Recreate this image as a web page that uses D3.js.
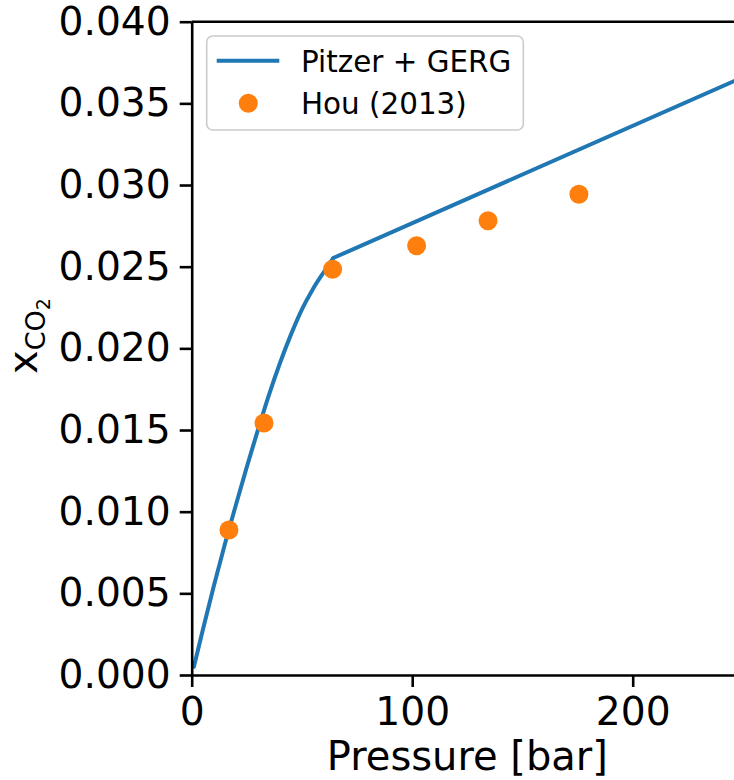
<!DOCTYPE html>
<html>
<head>
<meta charset="utf-8">
<script src="https://cdn.jsdelivr.net/npm/d3@7"></script>
<style>
  body { margin: 0; background: #fff; }
  svg { display: block; font-family: "DejaVu Sans", sans-serif; }
</style>
</head>
<body>
<svg id="chart" width="734" height="780"></svg>
<script>
// Pitzer + GERG model curve (pressure in bar, CO2 mole fraction)
// below the kink (two-phase region) ...
var modelP = [1, 5, 10, 15, 20, 25, 30, 35, 40, 45, 50, 55, 60, 64.2];
var modelX = [0.0005, 0.00274, 0.00544, 0.00799, 0.01039, 0.01274, 0.01499, 0.01714, 0.01909,
              0.02084, 0.02239, 0.02364, 0.02469, 0.02553];
// ... and above it
var modelP2 = [64.2, 250];
var modelX2 = [0.02553, 0.0366];

// Hou (2013) measurements
var houP = [16.9, 32.8, 63.9, 102.0, 134.4, 175.6];
var houX = [0.00888, 0.01543, 0.02484, 0.02628, 0.02781, 0.02943];

var xTicks = [0, 100, 200];
var yTicks = [0, 0.005, 0.010, 0.015, 0.020, 0.025, 0.030, 0.035, 0.040];

var blue = "#1f77b4", orange = "#ff7f0e";

var svg = d3.select("#chart");
var margin = { left: 191.7, top: 21.7, bottom: 675 };
var x = d3.scaleLinear().domain([0, 250]).range([margin.left, margin.left + 2.205 * 250]);
var y = d3.scaleLinear().domain([0, 0.04]).range([margin.bottom, margin.top]);

// clip for plot area
svg.append("defs").append("clipPath").attr("id", "plotclip")
  .append("rect")
  .attr("x", x(0)).attr("y", y(0.04))
  .attr("width", x(250) - x(0)).attr("height", y(0) - y(0.04));

function drawModel(ps, xs, curve) {
  var line = d3.line()
    .x(function (d, i) { return x(ps[i]); })
    .y(function (d, i) { return y(xs[i]); })
    .curve(curve);
  svg.append("path")
    .datum(ps)
    .attr("clip-path", "url(#plotclip)")
    .attr("d", line)
    .attr("fill", "none")
    .attr("stroke", blue)
    .attr("stroke-width", 4)
    .attr("stroke-linecap", "round");
}
drawModel(modelP, modelX, d3.curveMonotoneX);
drawModel(modelP2, modelX2, d3.curveLinear);

// data points
svg.append("g").selectAll("circle")
  .data(houP)
  .enter().append("circle")
  .attr("cx", function (d) { return x(d); })
  .attr("cy", function (d, i) { return y(houX[i]); })
  .attr("r", 9.5)
  .attr("fill", orange);

// axes
var xAxis = svg.append("g")
  .attr("transform", "translate(0," + y(0) + ")")
  .call(d3.axisBottom(x).tickValues(xTicks).tickSize(12).tickSizeOuter(0).tickPadding(10));
var yAxis = svg.append("g")
  .attr("transform", "translate(" + x(0) + ",0)")
  .call(d3.axisLeft(y).tickValues(yTicks).tickFormat(d3.format(".3f")).tickSize(12).tickSizeOuter(0).tickPadding(9));

[xAxis, yAxis].forEach(function (ax) {
  ax.selectAll("path, line").attr("stroke", "#000").attr("stroke-width", 2.6);
  ax.selectAll("text").attr("fill", "#000").style("font-size", "39.2px")
    .style("font-family", "'DejaVu Sans', sans-serif");
});

// top spine
svg.append("line")
  .attr("x1", x(0)).attr("x2", x(250))
  .attr("y1", y(0.04)).attr("y2", y(0.04))
  .attr("stroke", "#000").attr("stroke-width", 2.6);

// axis labels
svg.append("text")
  .attr("x", (x(0) + x(250)) / 2)
  .attr("y", 770)
  .attr("text-anchor", "middle")
  .style("font-size", "40px")
  .text("Pressure [bar]");

var ylab = svg.append("text")
  .attr("transform", "translate(37,336) rotate(-90)")
  .attr("text-anchor", "middle")
  .style("font-size", "40px");
ylab.append("tspan").text("x");
ylab.append("tspan").attr("dy", 8).style("font-size", "27px").text("CO");
ylab.append("tspan").attr("dy", 5).style("font-size", "19px").text("2");

// legend
var lg = svg.append("g");
lg.append("rect")
  .attr("x", 206.7).attr("y", 36)
  .attr("width", 316.6).attr("height", 94)
  .attr("rx", 6)
  .attr("fill", "#fff").attr("fill-opacity", 0.8)
  .attr("stroke", "#cccccc").attr("stroke-width", 1.6);
lg.append("line")
  .attr("x1", 216.7).attr("x2", 279.3)
  .attr("y1", 60.7).attr("y2", 60.7)
  .attr("stroke", blue).attr("stroke-width", 4);
lg.append("circle")
  .attr("cx", 248.3).attr("cy", 103.3).attr("r", 9.5)
  .attr("fill", orange);
lg.append("text")
  .attr("x", 301).attr("y", 71.5)
  .style("font-size", "29.4px").text("Pitzer + GERG");
lg.append("text")
  .attr("x", 301).attr("y", 114)
  .style("font-size", "29.4px").text("Hou (2013)");
</script>
</body>
</html>
